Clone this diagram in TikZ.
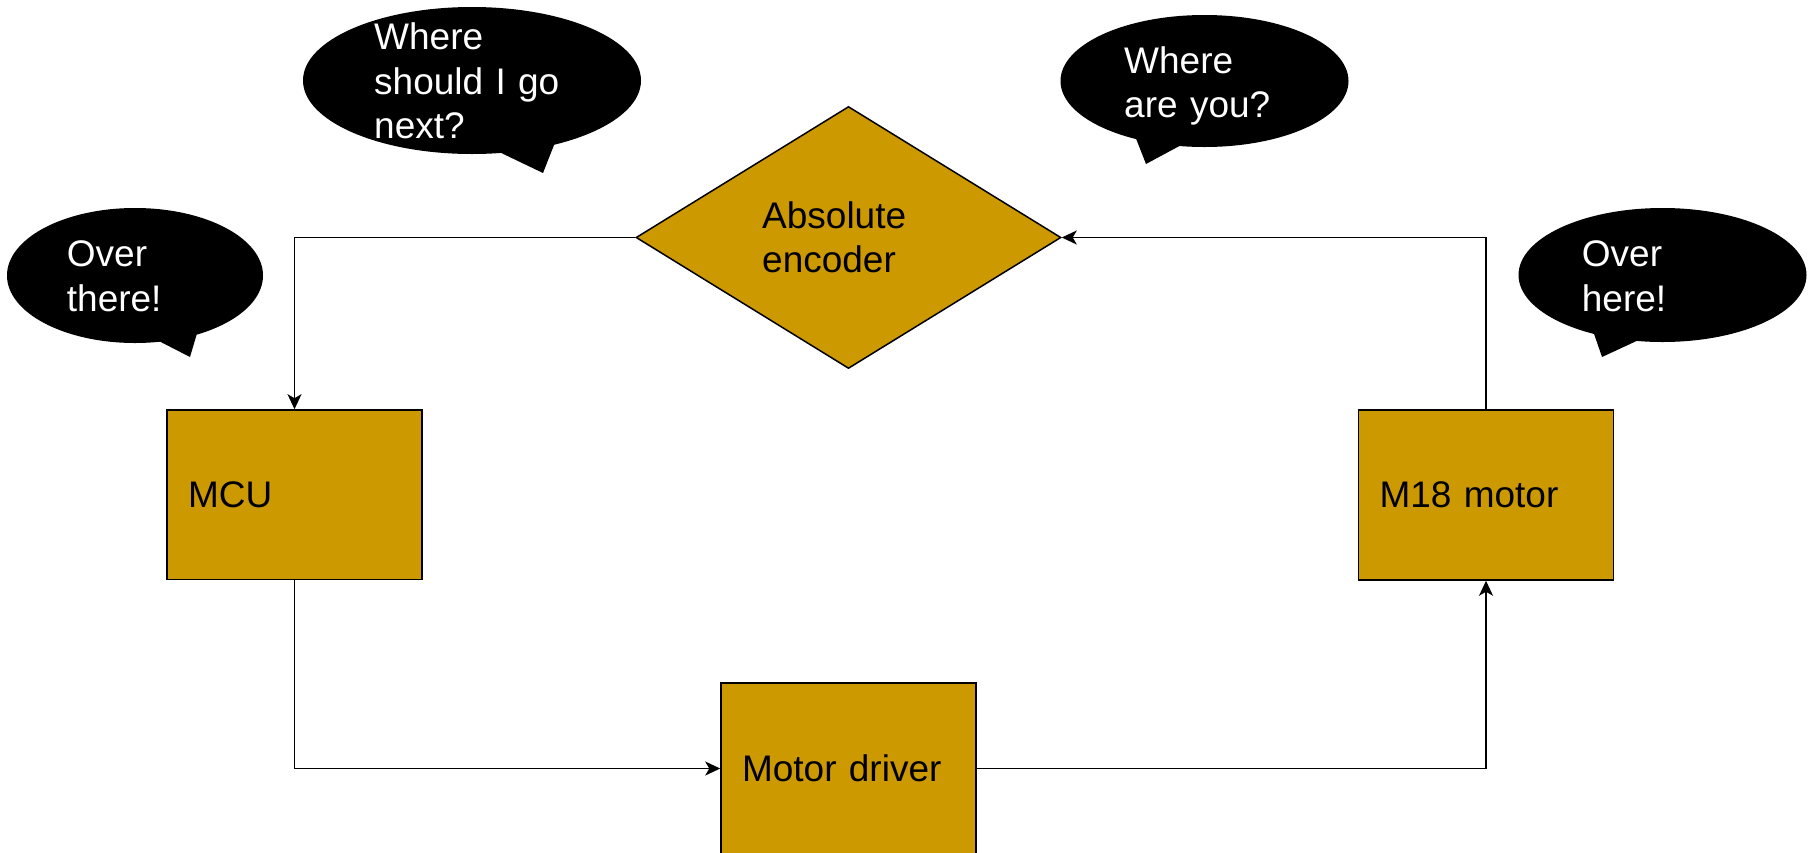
\documentclass[tikz,border=0pt]{standalone}
\usepackage{fontspec}
\setmainfont{Liberation Sans}
\usetikzlibrary{shapes.geometric,arrows.meta}
\definecolor{gold}{RGB}{204,153,0}
\begin{document}
\begin{tikzpicture}[x=1pt,y=-1pt,
  txt/.style={font=\fontsize{37}{44.5}\selectfont},
  blk/.style={txt,draw=black,line width=1.5pt,fill=gold,rectangle,
    minimum width=255pt,inner xsep=21pt,inner ysep=0pt,text width=213pt,align=left},
  bubble/.style={ellipse,fill=black,inner sep=0pt},
  say/.style={txt,text=white,inner sep=0pt,text width=200pt,align=left,anchor=base west},
  conn/.style={line width=1.5pt,-{Stealth[length=15pt,width=14pt,inset=4pt]}}]
\useasboundingbox (0,0) rectangle (1812,852);

% callouts
\node[bubble,minimum width=338pt,minimum height=147pt] (b1) at (472,80.5) {};
\fill (495,150) -- (543,173) -- (556,140) -- cycle;
\node[say] (t1) at (374,49.5) {Where\\should I go\\next?};

\node[bubble,minimum width=256pt,minimum height=135pt] (b2) at (135,275.5) {};
\fill (153,338) -- (190,357) -- (198,330) -- cycle;
\node[say] (t2) at (66.7,266.7) {Over\\there!};

\node[bubble,minimum width=288pt,minimum height=132pt] (b3) at (1204.5,81) {};
\fill (1135,136) -- (1146,164) -- (1185,143) -- cycle;
\node[say] (t3) at (1124,73.3) {Where\\are you?};

\node[bubble,minimum width=288pt,minimum height=134pt] (b4) at (1662.5,275) {};
\fill (1592,328) -- (1602,357) -- (1643,338) -- cycle;
\node[say] (t4) at (1581.7,266.7) {Over\\here!};

% diagram
\node[diamond,draw=black,line width=1.5pt,fill=gold,inner sep=0pt,
  minimum width=425pt,minimum height=262pt] (enc) at (848.5,237.5) {};
\node[txt,inner sep=0pt,text width=200pt,align=left,anchor=base west] (enctext) at (762,228.3) {Absolute\\encoder};

\node[blk,minimum height=169.5pt] (mcu) at (294.5,494.7) {MCU};
\node[blk,minimum height=171pt] (drv) at (848.5,768.5) {Motor driver};
\node[blk,minimum height=170pt] (m18) at (1486,495) {M18 motor};

\draw[conn] (enc.west) -| (mcu.north);
\draw[conn] (mcu.south) |- (drv.west);
\draw[conn] (drv.east) -| (m18.south);
\draw[conn] (m18.north) |- (enc.east);
\end{tikzpicture}
\end{document}
